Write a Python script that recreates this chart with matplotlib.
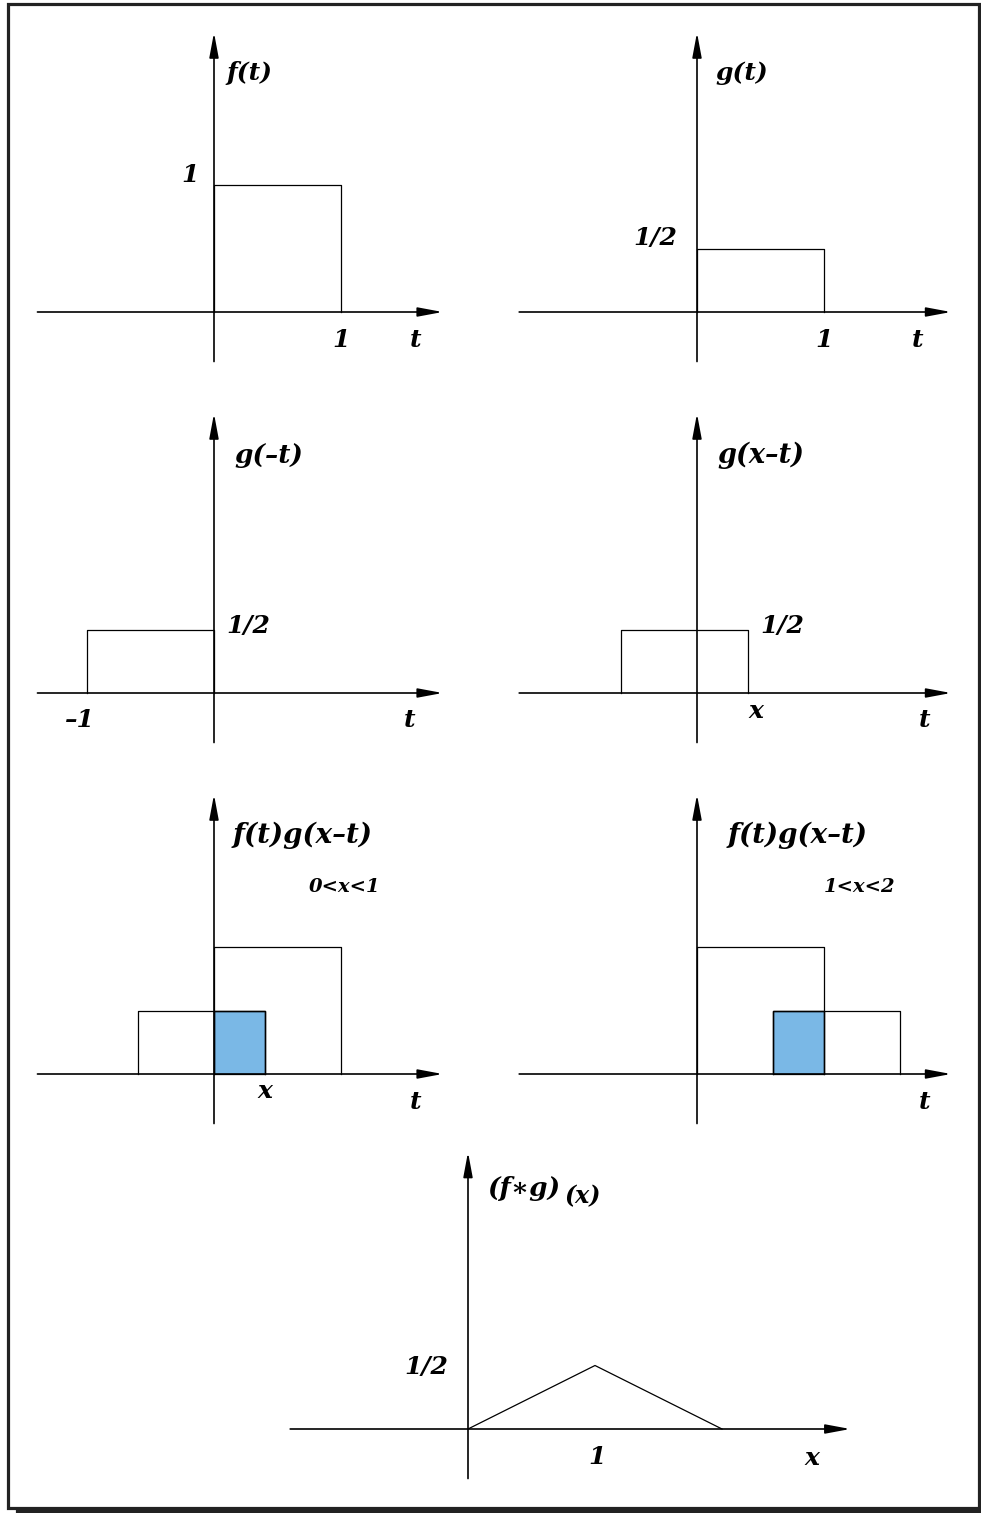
import matplotlib
matplotlib.use("Agg")
import matplotlib.pyplot as plt
from matplotlib.patches import Rectangle
from matplotlib.lines import Line2D

W, H = 981, 1513
U = 127.0  # pixels per unit

# data
f_t = [[0, 0, 1, 1], [0, 1, 1, 0]]            # f(t): box 0..1, height 1
g_t = [[0, 0, 1, 1], [0, 0.5, 0.5, 0]]        # g(t): box 0..1, height 1/2
g_neg = [[-1, -1, 0, 0], [0, 0.5, 0.5, 0]]    # g(-t)
x_a = 0.4                                     # 0 < x < 1 case
x_b = 1.6                                     # 1 < x < 2 case
conv_x = [0, 1, 2]
conv_y = [0, 0.5, 0]

FONT = dict(family="DejaVu Serif", weight="bold", style="italic")
BLUE = "#7ab8e6"

fig = plt.figure(figsize=(W / 100, H / 100), dpi=100)


def panel(ox, oy, xmin, xmax, ymin=-0.39, ymax=2.2):
    ax = fig.add_axes([(ox + xmin * U) / W, 1 - (oy - ymin * U) / H,
                       (xmax - xmin) * U / W, (ymax - ymin) * U / H])
    ax.set_xlim(xmin, xmax)
    ax.set_ylim(ymin, ymax)
    ax.axis("off")
    arrow = dict(arrowstyle="-|>,head_length=1.5,head_width=0.28",
                 color="black", lw=1.2, shrinkA=0, shrinkB=0)
    ax.annotate("", xy=(xmax, 0), xytext=(xmin, 0), arrowprops=arrow)
    ax.annotate("", xy=(0, ymax), xytext=(0, ymin), arrowprops=arrow)
    return ax


def label(ax, x, y, s, size=18, ha="center"):
    ax.text(x, y, s, ha=ha, va="center", fontsize=size, **FONT)


def box(ax, a, b, h, fill=None):
    ax.plot([a, a, b, b], [0, h, h, 0], color="black", lw=0.9)
    if fill:
        ax.add_patch(Rectangle((a, 0), b - a, h, facecolor=fill,
                               edgecolor="black", lw=0.9, zorder=0))


# 1: f(t)
ax = panel(214, 312, -1.39, 1.80)
ax.plot(*f_t, color="black", lw=0.9)
label(ax, 0.28, 1.88, "f(t)")
label(ax, -0.19, 1.08, "1")
label(ax, 1.0, -0.22, "1")
label(ax, 1.59, -0.22, "t")

# 2: g(t)
ax = panel(697, 312, -1.40, 2.0)
ax.plot(*g_t, color="black", lw=0.9)
label(ax, 0.35, 1.88, "g(t)")
label(ax, -0.33, 0.58, "1/2")
label(ax, 1.0, -0.22, "1")
label(ax, 1.74, -0.22, "t")

# 3: g(-t)
ax = panel(214, 693, -1.39, 1.80)
ax.plot(*g_neg, color="black", lw=0.9)
label(ax, 0.43, 1.87, "g(\u2013t)", size=19)
label(ax, 0.27, 0.53, "1/2")
label(ax, -1.06, -0.21, "\u20131")
label(ax, 1.54, -0.21, "t")

# 4: g(x-t)
ax = panel(697, 693, -1.40, 2.0)
box(ax, x_a - 1, x_a, 0.5)
label(ax, 0.50, 1.87, "g(x\u2013t)", size=19.5)
label(ax, 0.67, 0.53, "1/2")
label(ax, x_a + 0.06, -0.14, "x")
label(ax, 1.79, -0.21, "t")

# 5: f(t)g(x-t), 0<x<1
ax = panel(214, 1074, -1.39, 1.80)
box(ax, 0, 1, 1)
box(ax, x_a - 1, x_a, 0.5)
box(ax, 0, x_a, 0.5, fill=BLUE)
label(ax, 0.70, 1.88, "f(t)g(x\u2013t)", size=20)
label(ax, 1.03, 1.47, "0<x<1", size=14)
label(ax, x_a, -0.13, "x")
label(ax, 1.59, -0.22, "t")

# 6: f(t)g(x-t), 1<x<2
ax = panel(697, 1074, -1.40, 2.0)
box(ax, 0, 1, 1)
box(ax, x_b - 1, x_b, 0.5)
box(ax, x_b - 1, 1, 0.5, fill=BLUE)
label(ax, 0.79, 1.88, "f(t)g(x\u2013t)", size=20)
label(ax, 1.28, 1.47, "1<x<2", size=14)
label(ax, 1.79, -0.22, "t")

# 7: convolution
ax = panel(468, 1429, -1.40, 3.01, -0.39, 2.18)
ax.plot(conv_x, conv_y, color="black", lw=0.9)
label(ax, 0.73, 1.89, "(f\u2217g)", size=19, ha="right")
label(ax, 0.76, 1.83, "(x)", size=17, ha="left")
label(ax, -0.33, 0.49, "1/2")
label(ax, 1.02, -0.22, "1")
label(ax, 2.71, -0.23, "x")

# frame with shadow
fig.add_artist(Rectangle((7.5 / W, 1 - 1507.5 / H), 971 / W, 1504 / H,
                         transform=fig.transFigure, fill=False,
                         edgecolor="#222222", lw=2.3))
fig.add_artist(Line2D([17 / W, 1.0], [1 - 1510.5 / H] * 2,
                      transform=fig.transFigure, color="#222222", lw=2.3))

fig.savefig("out.png", dpi=100, facecolor="white")
